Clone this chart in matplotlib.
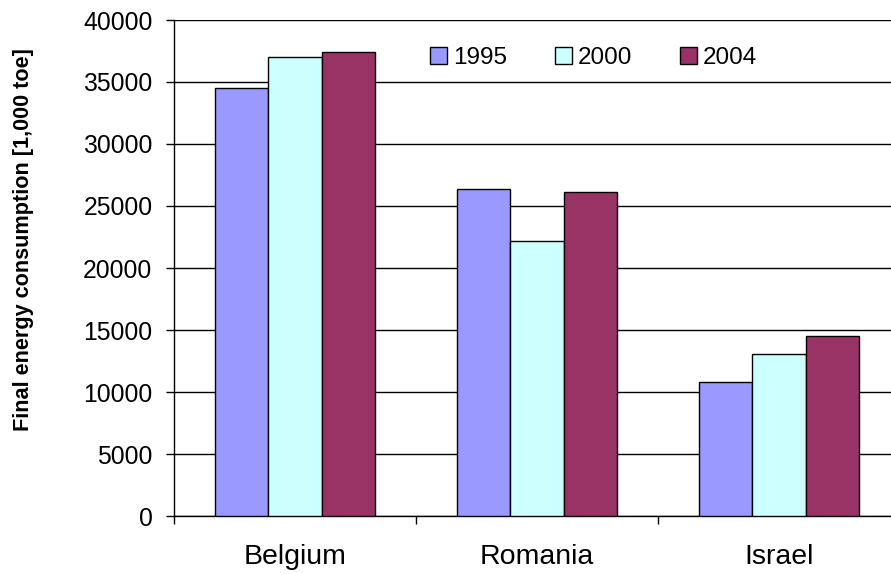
import matplotlib
matplotlib.use("Agg")
import matplotlib.pyplot as plt
import numpy as np

categories = ["Belgium", "Romania", "Israel"]
years = ["1995", "2000", "2004"]
v1995 = [34500, 26400, 10800]
v2000 = [37000, 22200, 13100]
v2004 = [37400, 26100, 14500]
colors = ["#9999FF", "#CCFFFF", "#993366"]
yticks = [0, 5000, 10000, 15000, 20000, 25000, 30000, 35000, 40000]

plt.rcParams["font.family"] = ["Liberation Sans", "DejaVu Sans"]

fig = plt.figure(figsize=(8.91, 5.74), dpi=100)
ax = fig.add_axes([174/891, 58/574, 726/891, 496/574])

x = np.arange(len(categories))
w = 0.221
for i, (vals, c, lab) in enumerate(zip([v1995, v2000, v2004], colors, years)):
    ax.bar(x + (i - 1) * w, vals, w, color=c, edgecolor="black", linewidth=1.0, label=lab, zorder=3)

ax.set_xlim(-0.5, 2.5)
ax.set_ylim(0, 40000)
ax.set_yticks(yticks)
ax.set_yticklabels([str(t) for t in yticks], fontsize=17.8)
ax.set_xticks(x)
ax.set_xticklabels(categories, fontsize=20.5)
ax.set_xticks([-0.5, 0.5, 1.5], minor=True)
ax.tick_params(axis="x", which="major", length=0, pad=20)
ax.tick_params(axis="x", which="minor", length=6, width=1, direction="out")
ax.tick_params(axis="y", length=5.5, width=1, direction="out", pad=10)
ax.yaxis.grid(True, color="black", linewidth=1.0, zorder=0)
ax.set_axisbelow(True)
for s in ["top", "right"]:
    ax.spines[s].set_visible(False)
ax.spines["left"].set_linewidth(1.0)
ax.spines["bottom"].set_linewidth(1.0)

ax.set_ylabel("Final energy consumption [1,000 toe]", fontsize=15.6, fontweight="bold")
ax.yaxis.set_label_coords(-(174 - 34) / 726, (516 - 240) / 496)

ax.legend(loc="upper left", bbox_to_anchor=(0.323, 0.99), ncol=3, frameon=False, fontsize=17.5,
          handlelength=0.7, handleheight=0.7, handletextpad=0.25, columnspacing=1.95)

fig.savefig("out.png", dpi=100)
